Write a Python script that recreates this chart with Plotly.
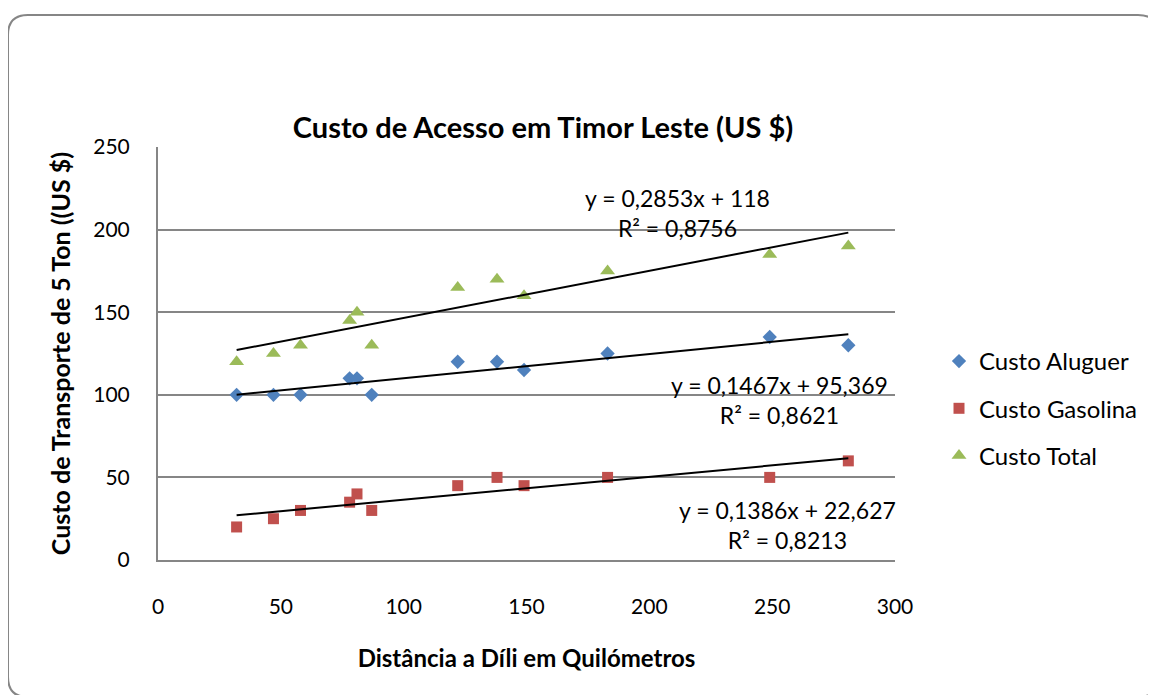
import numpy as np
import plotly.graph_objects as go

# --- Data ---
distancia = [32, 47, 58, 78, 81, 87, 122, 138, 149, 183, 249, 281]
custo_aluguer = [100, 100, 100, 110, 110, 100, 120, 120, 115, 125, 135, 130]
custo_gasolina = [20, 25, 30, 35, 40, 30, 45, 50, 45, 50, 50, 60]
custo_total = [120, 125, 130, 145, 150, 130, 165, 170, 160, 175, 185, 190]

series_names = ["Custo Aluguer", "Custo Gasolina", "Custo Total"]
trend_slope = [0.1467, 0.1386, 0.2853]
trend_intercept = [95.369, 22.627, 118]
trend_r2 = ["0,8621", "0,8213", "0,8756"]
trend_eq = ["y = 0,1467x + 95,369", "y = 0,1386x + 22,627", "y = 0,2853x + 118"]

COLORS = ["#4F81BD", "#C0504D", "#9BBB59"]
SYMBOLS = ["diamond", "square", "triangle-up"]
SIZES = [11, 11, 13]
FONT = "Lato, 'Open Sans', sans-serif"

# page body adds an 8px margin, so the figure is drawn shifted by that much
OFF = 8
W, H = 1156, 695
L, R, T, B = 158, 895, 147, 560  # plot area in screen pixels


def px_x(p):
    return (p - L) / (R - L)


def px_y(p):
    return (B - p) / (B - T)


fig = go.Figure()

values = [custo_aluguer, custo_gasolina, custo_total]
for i, name in enumerate(series_names):
    fig.add_trace(
        go.Scatter(
            x=distancia,
            y=values[i],
            mode="markers",
            name=name,
            legendgroup=name,
            marker=dict(color=COLORS[i], symbol=SYMBOLS[i], size=SIZES[i]),
        )
    )

# trendlines from the stated equations
xs = np.array([min(distancia), max(distancia)])
for i in range(3):
    fig.add_trace(
        go.Scatter(
            x=xs,
            y=trend_slope[i] * xs + trend_intercept[i],
            mode="lines",
            line=dict(color="black", width=2),
            showlegend=False,
            hoverinfo="skip",
        )
    )

# trendline labels
label_pos = [(779, 400), (787, 525), (677, 213)]
for i in range(3):
    fig.add_annotation(
        x=px_x(label_pos[i][0]),
        y=px_y(label_pos[i][1]),
        xref="paper",
        yref="paper",
        xanchor="center",
        yanchor="middle",
        text=trend_eq[i] + "<br>R² = " + trend_r2[i],
        showarrow=False,
        font=dict(size=23, color="black", family=FONT),
        align="center",
    )

# rounded chart border
x0, x1 = px_x(8), px_x(1158)
y0, y1 = px_y(15), px_y(697)
rx = 20 / (R - L)
ry = 20 / (B - T)
path = (
    f"M {x0},{y1 + ry} L {x0},{y0 - ry} Q {x0},{y0} {x0 + rx},{y0} "
    f"L {x1 - rx},{y0} Q {x1},{y0} {x1},{y0 - ry} "
    f"L {x1},{y1 + ry} Q {x1},{y1} {x1 - rx},{y1} "
    f"L {x0 + rx},{y1} Q {x0},{y1} {x0},{y1 + ry} Z"
)
fig.add_shape(
    type="path",
    path=path,
    xref="paper",
    yref="paper",
    line=dict(color="#868686", width=2),
)

fig.update_layout(
    width=W,
    height=H,
    margin=dict(l=L - OFF, r=W - R + OFF, t=T - OFF, b=H - B + OFF),
    paper_bgcolor="white",
    plot_bgcolor="white",
    font=dict(family=FONT, size=21, color="black"),
    title=dict(
        text="<b>Custo de Acesso em Timor Leste (US $)</b>",
        x=px_x(543),
        xref="paper",
        xanchor="center",
        y=1 - (128 - OFF) / H,
        yanchor="middle",
        font=dict(size=29),
    ),
    legend=dict(
        x=px_x(939),
        xref="paper",
        y=px_y(339),
        yref="paper",
        xanchor="left",
        yanchor="top",
        font=dict(size=24),
        tracegroupgap=13,
        itemwidth=30,
    ),
    showlegend=True,
)

fig.update_xaxes(
    range=[0, 300],
    dtick=50,
    showgrid=False,
    zeroline=False,
    showline=True,
    linecolor="#868686",
    linewidth=2,
    ticks="",
    ticklabelstandoff=27,
    title=dict(
        text="<b>Distância a Díli em Quilómetros</b>",
        font=dict(size=24),
        standoff=33,
    ),
)
fig.update_yaxes(
    range=[0, 250],
    dtick=50,
    showgrid=True,
    gridcolor="#868686",
    gridwidth=2,
    zeroline=False,
    showline=True,
    linecolor="#868686",
    linewidth=2,
    ticks="",
    ticklabelstandoff=22,
    title=dict(
        text="<b>Custo de Transporte de 5 Ton ((US $)</b>",
        font=dict(size=25),
        standoff=16,
    ),
)

fig.write_html("out.html")
